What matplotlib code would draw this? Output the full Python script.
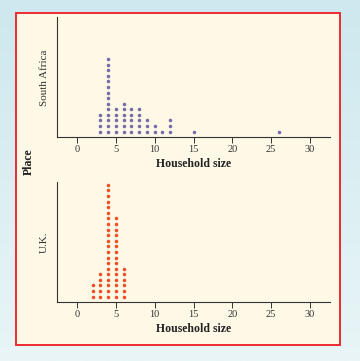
import matplotlib
matplotlib.use("Agg")
import matplotlib.pyplot as plt
import numpy as np
from matplotlib.patches import Rectangle
from matplotlib.colors import LinearSegmentedColormap

# Data: household sizes and counts (dot plot)
sa_sizes = [3, 4, 5, 6, 7, 8, 9, 10, 11, 12, 15, 26]
sa_counts = [4, 14, 5, 6, 5, 5, 3, 2, 1, 3, 1, 1]
uk_sizes = [2, 3, 4, 5, 6]
uk_counts = [3, 5, 21, 15, 6]
xticks = [0, 5, 10, 15, 20, 25, 30]
panel_labels = ["South Africa", "U.K."]
xlabel = "Household size"
ylabel = "Place"

W, H = 360, 361
fig = plt.figure(figsize=(W / 100, H / 100), dpi=100)

# Background gradient
bg = fig.add_axes([0, 0, 1, 1])
grad = np.linspace(0, 1, 256).reshape(-1, 1)
cmap = LinearSegmentedColormap.from_list("bg", ["#cde8ee", "#e9f5f7"])
bg.imshow(grad, aspect="auto", cmap=cmap, extent=[0, 1, 0, 1], origin="upper")
bg.set_xlim(0, 1)
bg.set_ylim(0, 1)
bg.axis("off")

# Card with red border
x0, y0, x1, y1 = 16, 13, 340, 345
bg.add_patch(Rectangle((x0 / W, 1 - y1 / H), (x1 - x0) / W, (y1 - y0) / H,
                       facecolor="#fef8e7", edgecolor="#ee2a30", linewidth=1.4))

serif = ["Liberation Serif", "DejaVu Serif"]

def make_panel(top, bottom, sizes, counts, color, label):
    left, right = 57, 330
    ax = fig.add_axes([left / W, 1 - bottom / H, (right - left) / W, (bottom - top) / H])
    ax.patch.set_alpha(0)
    xs, ys = [], []
    for s, c in zip(sizes, counts):
        for k in range(1, c + 1):
            xs.append(s)
            ys.append(k)
    ax.scatter(xs, ys, s=6.5, color=color, linewidths=0, zorder=3)
    ax.set_xlim(-2.6, 32.6)
    ax.set_ylim(0.05, 21.5)
    ax.set_xticks(xticks)
    ax.set_yticks([])
    for sp in ["top", "right"]:
        ax.spines[sp].set_visible(False)
    for sp in ["left", "bottom"]:
        ax.spines[sp].set_color("#333333")
        ax.spines[sp].set_linewidth(0.8)
    ax.tick_params(axis="x", direction="out", length=4, width=0.7, color="#333333",
                   labelsize=7.5, pad=2, labelcolor="#333333")
    for t in ax.get_xticklabels():
        t.set_fontfamily(serif)
    ax.set_xlabel(xlabel, fontfamily=serif, fontweight="bold", fontsize=8.5,
                  color="#222222", labelpad=3)
    ax.set_ylabel(label, fontfamily=serif, fontsize=8, color="#333333")
    return ax

ax1 = make_panel(17, 137, sa_sizes, sa_counts, "#7a6aa8", panel_labels[0])
ax2 = make_panel(182, 302, uk_sizes, uk_counts, "#f04e25", panel_labels[1])
ax1.yaxis.set_label_coords(-0.03, 0.49)
ax2.yaxis.set_label_coords(-0.03, 0.5)

fig.text(29 / W, 1 - 162 / H, ylabel, rotation=90, ha="center", va="center",
         fontfamily=serif, fontweight="bold", fontsize=8.5, color="#222222")

fig.savefig("out.png", dpi=100)
